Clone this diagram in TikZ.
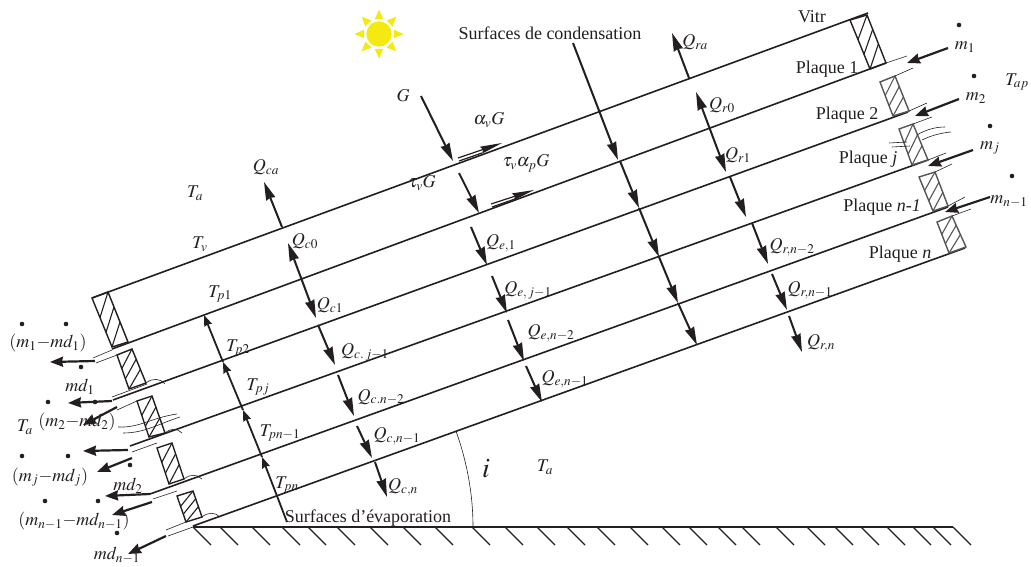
\documentclass[tikz,border=0pt]{standalone}
\usepackage{mathptmx}
\usepackage[no-math]{fontspec}
\setmainfont{Liberation Serif}
\usetikzlibrary{arrows.meta, calc}
\definecolor{inkdark}{HTML}{231F20}
\definecolor{boxgray}{HTML}{555555}
\definecolor{sunyellow}{HTML}{F4EA12}
\tikzset{
  plate/.style={line width=1.6pt, color=inkdark},
  thinline/.style={line width=0.6pt, color=inkdark},
  flux/.style={-{Stealth[length=18pt, width=9.5pt, inset=1pt]}, line width=2pt, color=inkdark},
  fluxboth/.style={{Stealth[length=18pt, width=9.5pt, inset=1pt]}-{Stealth[length=18pt, width=9.5pt, inset=1pt]}, line width=2pt, color=inkdark},
  tempup/.style={-{Stealth[length=11pt, width=8pt, inset=1pt]}, line width=1.8pt, color=inkdark},
  flow/.style={-{Stealth[length=13pt, width=10pt, inset=1pt]}, line width=2.2pt, color=inkdark},
  along/.style={-{Stealth[length=22pt, width=7pt, inset=2pt]}, line width=1.2pt, color=inkdark},
  every node/.append style={font=\fontsize{18}{21}\selectfont, text=inkdark, inner sep=0pt}
}
\begin{document}
\begin{tikzpicture}[x=1pt, y=-1pt]
\useasboundingbox (0,0) rectangle (1031,567);
% sun
\coordinate (Sun) at (379,34);
\fill[sunyellow] (Sun) circle[radius=12.7pt];
\foreach \a in {0,45,...,315} {
  \fill[sunyellow] ($(Sun)+(\a:24.5)$) -- ($(Sun)+(\a+16:15.5)$) -- ($(Sun)+(\a-16:15.5)$) -- cycle;
}
% plates
\draw[plate] (92,298) -- (868,13);
\draw[plate] (112,349) -- (886,63);
\draw[plate] (113,400) -- (908,112);
\draw[plate] (130,446) -- (928,160);
\draw[plate] (150,494) -- (948,207);
\draw[plate] (193,526) -- (965,248);
% ground
\draw[line width=2pt, color=inkdark] (193,527) -- (953,527);
\foreach \x in {193,220,252,282,308,337,370,403,435,472,505,537,567,597,630,662,689,718,742,776,807,835,861,887,913,933,953} {
  \draw[line width=1.2pt, color=inkdark] (\x,527) -- ++(18,18);
}
% hatched boxes
\foreach \ax/\ay/\bx/\by/\cx/\cy/\dx/\dy/\col in {
  92/298/108/292/128/342/112/347/inkdark,
  117/355/132/349/146/383/129/389/inkdark,
  137/401/152/396/165/433/149/437/inkdark,
  157/448/172/443/184/479/169/484/inkdark,
  177/496/193/491/202/517/186/522/inkdark,
  850/20/867/15/886/63/870/69/inkdark,
  880/82/895/76/909/111/893/116/boxgray,
  899/129/913/124/928/160/912/165/boxgray,
  919/177/935/172/948/206/933/211/boxgray,
  937/222/952/216/966/247/949/253/boxgray} {
  \coordinate (boxTL) at (\ax,\ay);
  \coordinate (boxTR) at (\bx,\by);
  \coordinate (boxBR) at (\cx,\cy);
  \coordinate (boxBL) at (\dx,\dy);
  \draw[line width=1.4pt, color=\col] (boxTL) -- (boxTR) -- (boxBR) -- (boxBL) -- cycle;
  \foreach \hs/\he in {0.4/0,0.7/0.3,1/0.6} {
    \draw[line width=1.1pt, color=\col] ($(boxTL)!\hs!(boxBL)$) -- ($(boxTR)!\he!(boxBR)$);
  }
}
% channels left
\draw[thinline] (93,358) -- (112,350);
\draw[thinline] (96,363) -- (117,355);
\draw[thinline] (112,397) -- (147,384);
\draw[thinline] (117,410) -- (137,401);
\draw[thinline] (132,452) -- (157,443);
\draw[thinline] (153,499) -- (177,491);
\draw[thinline] (166,530) -- (186,522);
\draw[thinline] (168,536) -- (193,527);
% channels right
\draw[thinline] (886,63) -- (907,56);
\draw[thinline] (895,76) -- (913,68);
\draw[thinline] (909,111) -- (927,103);
\draw[thinline] (913,124) -- (932,117);
\draw[thinline] (928,160) -- (946,153);
\draw[thinline] (935,172) -- (952,164);
\draw[thinline] (948,206) -- (965,197);
\draw[thinline] (952,216) -- (971,209);
% small arcs and wavy lines
\draw[thinline] (146,383) .. controls (152,378) and (160,378) .. (165,384);
\draw[thinline] (165,433) .. controls (171,428) and (177,428) .. (182,433);
\draw[thinline] (184,479) .. controls (190,474) and (197,474) .. (202,479);
\draw[thinline] (202,517) .. controls (208,512) and (215,512) .. (220,517);
\draw[thinline] (118,427) .. controls (140,428) and (150,418) .. (177,414);
\draw[thinline] (123,433) .. controls (145,433) and (158,424) .. (180,417);
\draw[thinline] (889,143) -- (907,142);
\draw[thinline] (892,147) -- (910,146);
\draw[thinline] (917,135) .. controls (925,130) and (935,127) .. (945,127);
\draw[thinline] (922,140) .. controls (930,136) and (940,133) .. (951,132);
% angle
\draw[thinline] (473,527) .. controls (473,494) and (467,462) .. (456,431);
% flux columns
\draw[flux] (282,227) -- (264,182);
\draw[fluxboth] (288,243) -- (316,318);
\draw[flux] (318,325) -- (335,365);
\draw[flux] (338,375) -- (354,416);
\draw[flux] (357,426) -- (372,458);
\draw[flux] (375,462) -- (387,497);
\draw[flux] (421,96) -- (453,161);
\draw[flux] (459,173) -- (479,213);
\draw[flux] (471,227) -- (487,265);
\draw[flux] (492,276) -- (507,313);
\draw[flux] (508,320) -- (524,361);
\draw[flux] (526,366) -- (542,402);
\draw[flux] (573,43) -- (618,160);
\draw[flux] (620,161) -- (639,208);
\draw[flux] (639,208) -- (659,257);
\draw[flux] (659,257) -- (678,303);
\draw[flux] (678,303) -- (697,345);
\draw[flux] (689,78) -- (672,33);
\draw[fluxboth] (696,92) -- (726,172);
\draw[flux] (730,177) -- (746,217);
\draw[flux] (752,223) -- (768,264);
\draw[flux] (772,274) -- (787,310);
\draw[flux] (789,316) -- (802,352);
% absorbed part along glass and plate
\draw[along] (458,158) -- (502,143);
\draw[line width=1.2pt, color=inkdark] (459,161) -- (482,153);
\draw[along] (491,204) -- (534,190);
\draw[line width=1.2pt, color=inkdark] (492,207) -- (515,199);
% temperature axis
\draw[tempup] (287,522) -- (262,457);
\draw[tempup] (262,457) -- (243,410);
\draw[tempup] (243,410) -- (223,362);
\draw[tempup] (223,362) -- (204,315);
% outlet flows
\draw[flow] (95,361) -- (50,362);
\draw[flow] (112,401) -- (68,403);
\draw[flow] (117,407) -- (83,425);
\draw[flow] (128,450) -- (83,451);
\draw[flow] (132,458) -- (97,472);
\draw[flow] (150,494) -- (105,496);
\draw[flow] (152,502) -- (112,515);
\draw[flow] (166,536) -- (128,554);
% inlet flows
\draw[flow] (948,48) -- (907,63);
\draw[flow] (959,99) -- (915,116);
\draw[flow] (973,150) -- (928,166);
\draw[flow] (990,197) -- (945,212);
% dots
\foreach \x/\y in {959/25, 974/76, 990/126, 1012/176, 22/324, 66/324, 81/367, 48/402, 95/402, 22/456, 68/456, 130/465, 45/501, 98/501, 117/533} {
  \fill[inkdark] (\x,\y) circle[radius=2.3pt];
}
% labels
\node (lblCond) at (550,33) {Surfaces de condensation};
\node (lblEvap) at (368,518) {Surfaces d’évaporation};
\node (lblVitr) at (812,17) {Vitr};
\node (lblPa) at (827,69) {Plaque 1};
\node (lblPb) at (847,115) {Plaque 2};
\node (lblPc) at (868,159) {Plaque \textit{j}};
\node (lblPd) at (882,207) {Plaque \textit{n-1}};
\node (lblPe) at (900,254) {Plaque \textit{n}};
\node (lblG) at (403,96) {$G$};
\node (lblAv) at (489,120) {$\alpha_v G$};
\node (lblTv) at (422,183) {$\tau_v G$};
\node (lblTap) at (526,163) {$\tau_v\alpha_p G$};
\node (lblTaa) at (195,193) {$T_a$};
\node (lblTab) at (25,427) {$T_a$};
\node (lblTac) at (545,467) {$T_a$};
\node (lblTapp) at (1017,82) {$T_{ap}$};
\node (lblTgv) at (200,244) {$T_v$};
\node (lblTa) at (220,294) {$T_{p1}$};
\node (lblTb) at (238,348) {$T_{p2}$};
\node (lblTj) at (258,387) {$T_{pj}$};
\node (lblTm) at (280,433) {$T_{pn-1}$};
\node (lblTn) at (287,485) {$T_{pn}$};
\node (lblQca) at (266,167) {$Q_{ca}$};
\node (lblQco) at (305,241) {$Q_{c0}$};
\node (lblQci) at (330,305) {$Q_{c1}$};
\node (lblQcj) at (365,352) {$Q_{c.\,j-1}$};
\node (lblQcb) at (381,397) {$Q_{c.n-2}$};
\node (lblQcm) at (397,436) {$Q_{c,n-1}$};
\node (lblQcn) at (403,487) {$Q_{c,n}$};
\node (lblQea) at (501,243) {$Q_{e,1}$};
\node (lblQej) at (528,290) {$Q_{e,\,j-1}$};
\node (lblQeb) at (551,333) {$Q_{e,n-2}$};
\node (lblQem) at (565,379) {$Q_{e,n-1}$};
\node (lblQra) at (695,42) {$Q_{ra}$};
\node (lblQro) at (722,105) {$Q_{r0}$};
\node (lblQri) at (738,155) {$Q_{r1}$};
\node (lblQrb) at (792,247) {$Q_{r,n-2}$};
\node (lblQrm) at (810,290) {$Q_{r,n-1}$};
\node (lblQrn) at (821,343) {$Q_{r,n}$};
\node[font=\fontsize{28}{30}\selectfont] (lblAngle) at (486,469) {$i$};
\node (lblMa) at (965,47) {$m_1$};
\node (lblMb) at (976,98) {$m_2$};
\node (lblMj) at (990,148) {$m_j$};
\node (lblMm) at (1009,202) {$m_{n-1}$};
\node (lblOa) at (48,343) {$(m_1{-}md_1)$};
\node (lblDa) at (80,387) {$md_1$};
\node (lblOb) at (77,422) {$(m_2{-}md_2)$};
\node (lblOj) at (50,477) {$(m_j{-}md_j)$};
\node (lblDb) at (128,486) {$md_2$};
\node (lblOm) at (74,521) {$(m_{n-1}{-}md_{n-1})$};
\node (lblDm) at (117,555) {$md_{n-1}$};
\end{tikzpicture}
\end{document}
